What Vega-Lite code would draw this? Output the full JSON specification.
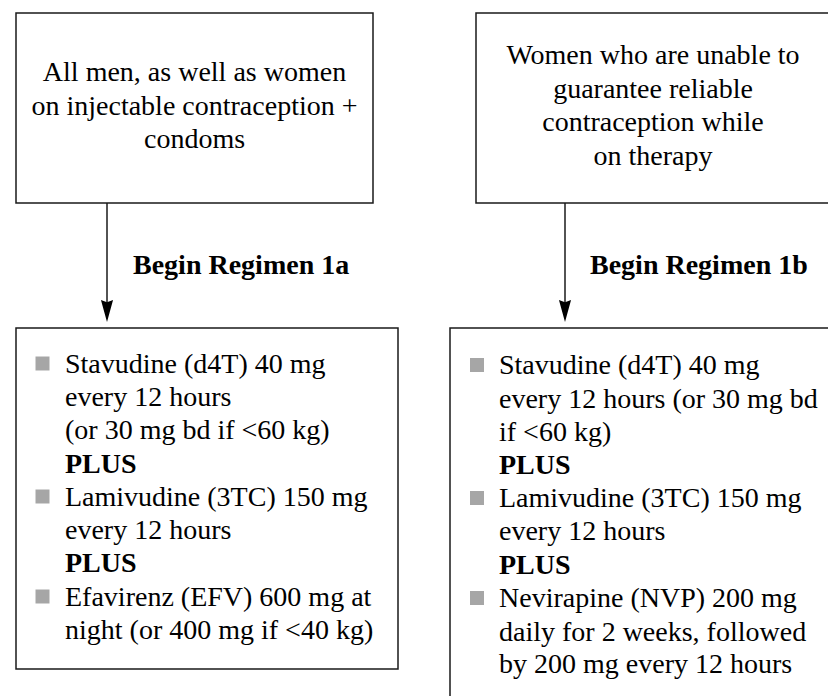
{
  "$schema": "https://vega.github.io/schema/vega-lite/v6.json",
  "width": 828,
  "height": 696,
  "padding": 0,
  "autosize": {"type": "none"},
  "background": "white",
  "config": {"view": {"stroke": null}},
  "datasets": {
    "boxes": [
      {"x": 16, "x2": 373, "y": 13, "y2": 203},
      {"x": 476, "x2": 860, "y": 13, "y2": 203},
      {"x": 16, "x2": 398, "y": 328, "y2": 669},
      {"x": 450, "x2": 860, "y": 328, "y2": 720}
    ],
    "arrows": [
      {"x": 107, "y": 203, "y2": 316, "tip": 311},
      {"x": 565, "y": 203, "y2": 316, "tip": 311}
    ],
    "bullets": [
      {"x": 42.5, "y": 363.5},
      {"x": 42.5, "y": 496.5},
      {"x": 42.5, "y": 596.5},
      {"x": 477, "y": 365},
      {"x": 477, "y": 498},
      {"x": 477, "y": 598}
    ],
    "labels": [
      {"role": "condition", "x": 194.5, "y": 81, "text": "All men, as well as women"},
      {"role": "condition", "x": 194.5, "y": 115, "text": "on injectable contraception +"},
      {"role": "condition", "x": 194.5, "y": 148, "text": "condoms"},
      {"role": "condition", "x": 653, "y": 64, "text": "Women who are unable to"},
      {"role": "condition", "x": 653, "y": 98, "text": "guarantee reliable"},
      {"role": "condition", "x": 653, "y": 131, "text": "contraception while"},
      {"role": "condition", "x": 653, "y": 165, "text": "on therapy"},
      {"role": "regimen", "x": 133, "y": 274, "text": "Begin Regimen 1a"},
      {"role": "regimen", "x": 590, "y": 274, "text": "Begin Regimen 1b"},
      {"role": "drug", "x": 65, "y": 373, "text": "Stavudine (d4T) 40 mg"},
      {"role": "drug", "x": 65, "y": 406, "text": "every 12 hours"},
      {"role": "drug", "x": 65, "y": 439, "text": "(or 30 mg bd if <60 kg)"},
      {"role": "plus", "x": 65, "y": 473, "text": "PLUS"},
      {"role": "drug", "x": 65, "y": 506, "text": "Lamivudine (3TC) 150 mg"},
      {"role": "drug", "x": 65, "y": 539, "text": "every 12 hours"},
      {"role": "plus", "x": 65, "y": 572, "text": "PLUS"},
      {"role": "drug", "x": 65, "y": 606, "text": "Efavirenz (EFV) 600 mg at"},
      {"role": "drug", "x": 65, "y": 639, "text": "night (or 400 mg if <40 kg)"},
      {"role": "drug", "x": 499, "y": 374, "text": "Stavudine (d4T) 40 mg"},
      {"role": "drug", "x": 499, "y": 408, "text": "every 12 hours (or 30 mg bd"},
      {"role": "drug", "x": 499, "y": 441, "text": "if <60 kg)"},
      {"role": "plus", "x": 499, "y": 474, "text": "PLUS"},
      {"role": "drug", "x": 499, "y": 507, "text": "Lamivudine (3TC) 150 mg"},
      {"role": "drug", "x": 499, "y": 540, "text": "every 12 hours"},
      {"role": "plus", "x": 499, "y": 574, "text": "PLUS"},
      {"role": "drug", "x": 499, "y": 607, "text": "Nevirapine (NVP) 200 mg"},
      {"role": "drug", "x": 499, "y": 641, "text": "daily for 2 weeks, followed"},
      {"role": "drug", "x": 499, "y": 673, "text": "by 200 mg every 12 hours"}
    ]
  },
  "encoding": {
    "x": {"field": "x", "type": "quantitative", "scale": {"domain": [0, 828], "nice": false, "zero": false}, "axis": null},
    "y": {"field": "y", "type": "quantitative", "scale": {"domain": [0, 696], "nice": false, "zero": false, "reverse": true}, "axis": null}
  },
  "layer": [
    {
      "data": {"name": "boxes"},
      "mark": {"type": "rect", "fill": "white", "stroke": "#1a1a1a", "strokeWidth": 1.5, "clip": true},
      "encoding": {
        "x2": {"field": "x2"},
        "y2": {"field": "y2"}
      }
    },
    {
      "data": {"name": "arrows"},
      "mark": {"type": "rule", "color": "#1a1a1a", "strokeWidth": 1.5},
      "encoding": {
        "y2": {"field": "y2"}
      }
    },
    {
      "data": {"name": "arrows"},
      "mark": {"type": "point", "shape": "M-0.55,-1L0,-0.8L0.55,-1L0,1Z", "filled": true, "color": "black", "opacity": 1, "size": 484},
      "encoding": {
        "y": {"field": "tip", "type": "quantitative"}
      }
    },
    {
      "data": {"name": "bullets"},
      "mark": {"type": "square", "color": "#a6a6a6", "opacity": 1, "size": 196},
      "encoding": {}
    },
    {
      "data": {"name": "labels"},
      "transform": [{"filter": "datum.role === 'condition'"}],
      "mark": {"type": "text", "font": "Liberation Serif", "fontSize": 28, "align": "center", "baseline": "alphabetic", "color": "black"},
      "encoding": {"text": {"field": "text"}}
    },
    {
      "data": {"name": "labels"},
      "transform": [{"filter": "datum.role === 'drug'"}],
      "mark": {"type": "text", "font": "Liberation Serif", "fontSize": 28, "align": "left", "baseline": "alphabetic", "color": "black"},
      "encoding": {"text": {"field": "text"}}
    },
    {
      "data": {"name": "labels"},
      "transform": [{"filter": "datum.role === 'plus' || datum.role === 'regimen'"}],
      "mark": {"type": "text", "font": "Liberation Serif", "fontSize": 28, "fontWeight": "bold", "align": "left", "baseline": "alphabetic", "color": "black"},
      "encoding": {"text": {"field": "text"}}
    }
  ]
}
